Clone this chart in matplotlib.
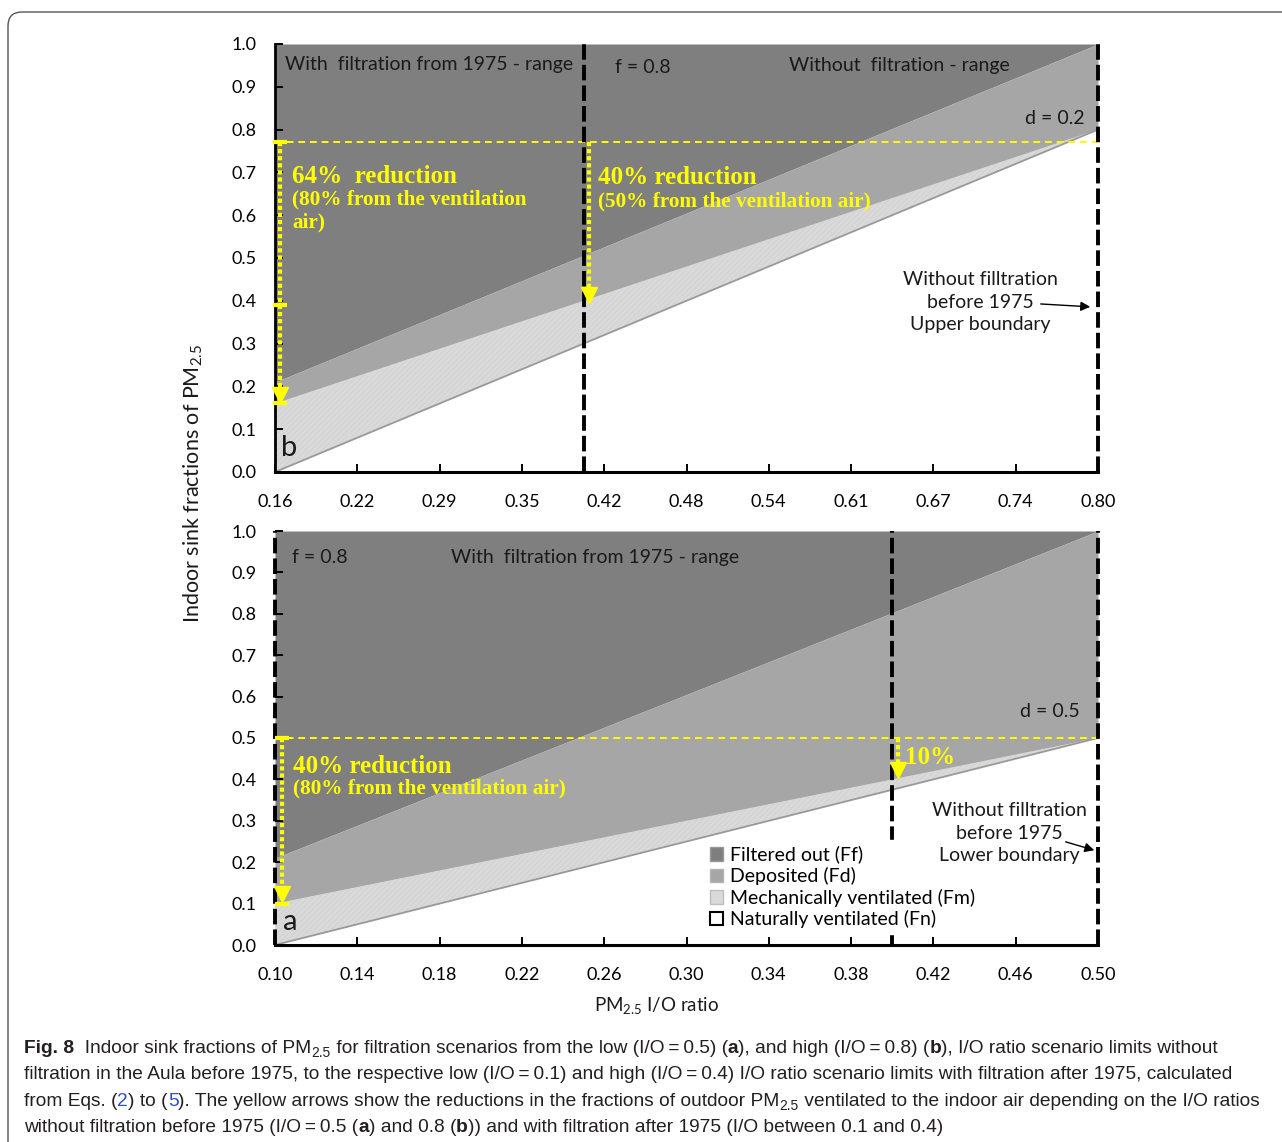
import matplotlib
matplotlib.use('Agg')
import matplotlib.pyplot as plt
from matplotlib.patches import Patch, FancyBboxPatch
from matplotlib.transforms import IdentityTransform, offset_copy

plt.rcParams['font.family'] = ['Lato', 'DejaVu Sans']
plt.rcParams['mathtext.fontset'] = 'custom'
plt.rcParams['mathtext.rm'] = 'Lato'
plt.rcParams['mathtext.it'] = 'Lato:italic'
plt.rcParams['mathtext.bf'] = 'Lato:bold'
plt.rcParams['hatch.linewidth'] = 0.4

W, H = 1282, 1142

# panel b - high scenario (I/O 0.8 without filtration, 0.4 with filtration)
io_b = [0.16, 0.80]
fn_top_b = [0.00, 0.80]   # upper edge of naturally ventilated fraction
fm_top_b = [0.16, 0.80]   # upper edge of mechanically ventilated fraction
fd_top_b = [0.21, 1.00]   # upper edge of deposited fraction
xticks_b = [0.16, 0.224, 0.288, 0.352, 0.416, 0.48, 0.544, 0.608, 0.672, 0.736, 0.80]
xlabels_b = ['0.16', '0.22', '0.29', '0.35', '0.42', '0.48', '0.54', '0.61', '0.67', '0.74', '0.80']
limits_b = [0.40, 0.80]   # black dashed I/O limits
level_b = 0.772           # yellow dashed level
arrows_b = [(0.1639, 0.161, [0.772, 0.39, 0.161]), (0.4042, 0.395, [])]

# panel a - low scenario (I/O 0.5 without filtration, 0.1 with filtration)
io_a = [0.10, 0.50]
fn_top_a = [0.00, 0.50]
fm_top_a = [0.10, 0.50]
fd_top_a = [0.21, 1.00]
xticks_a = [0.10, 0.14, 0.18, 0.22, 0.26, 0.30, 0.34, 0.38, 0.42, 0.46, 0.50]
xlabels_a = ['0.10', '0.14', '0.18', '0.22', '0.26', '0.30', '0.34', '0.38', '0.42', '0.46', '0.50']
limits_a = [0.10, 0.40, 0.50]
level_a = 0.50
arrows_a = [(0.1034, 0.102, [0.50, 0.10]), (0.4028, 0.403, [])]

yticks = [0.0, 0.1, 0.2, 0.3, 0.4, 0.5, 0.6, 0.7, 0.8, 0.9, 1.0]

C_FF = '#7f7f7f'
C_FD = '#a6a6a6'
C_FM = '#d9d9d9'
YEL = '#ffff00'

fig = plt.figure(figsize=(W / 100, H / 100), dpi=100)
ax_b = fig.add_axes([275 / W, 1 - 472 / H, 823 / W, 428 / H])
ax_a = fig.add_axes([275 / W, 1 - 945 / H, 823 / W, 414 / H])


def draw_panel(ax, io, fn_top, fm_top, fd_top, xt, xl, limits, level, arrows):
    ax.fill_between(io, fd_top, 1.0, color=C_FF, lw=0, zorder=1)
    ax.fill_between(io, fm_top, fd_top, color=C_FD, lw=0, zorder=1)
    ax.fill_between(io, fn_top, fm_top, facecolor=C_FM, edgecolor='#cecece',
                    hatch='//////', lw=0, zorder=1)
    ax.plot(io, fn_top, color='#999999', lw=1.3, zorder=2)

    ax.set_xlim(xt[0], xt[-1])
    ax.set_ylim(0, 1)
    ax.set_xticks(xt)
    ax.set_xticklabels(xl)
    ax.set_yticks(yticks)
    ax.set_yticklabels(['%.1f' % v for v in yticks])
    ax.tick_params(direction='in', length=6, width=1.4, labelsize=13)
    ax.tick_params(axis='x', pad=16)
    ax.tick_params(axis='y', pad=13)
    for s in ['top', 'right']:
        ax.spines[s].set_visible(False)
    ax.spines['bottom'].set_linewidth(2.2)
    ax.spines['left'].set_linewidth(2.0)

    for x in limits:
        ax.plot([x, x], [0, 1], color='black', lw=2.8, dashes=(4, 1.3),
                zorder=4, clip_on=False)

    ax.plot([xt[0], xt[-1]], [level, level], color=YEL, lw=1.4,
            dashes=(3.5, 2.5), zorder=3, clip_on=False)

    head = offset_copy(ax.transData, fig=fig, x=0, y=6, units='points')
    for x, tip, bars in arrows:
        ax.plot([x, x], [level, tip + 0.02], color=YEL, lw=3,
                linestyle=(0, (1, 0.7)), zorder=5)
        ax.plot([x], [tip], marker='v', ms=12, color=YEL, mec=YEL,
                transform=head, zorder=5, clip_on=False)
        for y in bars:
            ax.plot([x], [y], marker='_', ms=10, mew=3, color=YEL,
                    zorder=5, clip_on=False)


draw_panel(ax_b, io_b, fn_top_b, fm_top_b, fd_top_b, xticks_b, xlabels_b,
           limits_b, level_b, arrows_b)
draw_panel(ax_a, io_a, fn_top_a, fm_top_a, fd_top_a, xticks_a, xlabels_a,
           limits_a, level_a, arrows_a)
ax_a.spines['left'].set_visible(False)

txt = dict(fontsize=14, color='#1a1a1a', va='center', zorder=8)
ylw = dict(color=YEL, family='Liberation Serif', fontweight='bold', va='center', zorder=6)

# panel b texts
ax_b.text(0.1678, 0.953, 'With  filtration from 1975 - range', **txt)
ax_b.text(0.4244, 0.944, 'f = 0.8', **txt)
ax_b.text(0.5597, 0.949, 'Without  filtration - range', **txt)
ax_b.text(0.7432, 0.827, 'd = 0.2', **txt)
ax_b.text(0.1732, 0.690, '64%  reduction', fontsize=18, **ylw)
ax_b.text(0.1732, 0.610, '(80% from the ventilation\nair)', fontsize=15.3,
          linespacing=1.15, **ylw)
ax_b.text(0.4112, 0.687, '40% reduction', fontsize=18, **ylw)
ax_b.text(0.4112, 0.632, '(50% from the ventilation air)', fontsize=15.3, **ylw)
ax_b.text(0.7082, 0.397, 'Without filltration\nbefore 1975\nUpper boundary',
          ha='center', linespacing=1.4, **txt)
ax_b.annotate('', xy=(0.7961, 0.3855), xytext=(0.7533, 0.393),
              arrowprops=dict(arrowstyle='-|>', color='black', lw=1, mutation_scale=14))
ax_b.text(0.1647, 0.056, 'b', fontsize=21, color='#1a1a1a', va='center')

# panel a texts
ax_a.text(0.1083, 0.937, 'f = 0.8', **txt)
ax_a.text(0.1855, 0.937, 'With  filtration from 1975 - range', **txt)
ax_a.text(0.4621, 0.563, 'd = 0.5', **txt)
ax_a.text(0.1087, 0.432, '40% reduction', fontsize=18, **ylw)
ax_a.text(0.1087, 0.377, '(80% from the ventilation air)', fontsize=15.3, **ylw)
ax_a.text(0.4062, 0.454, '10%', fontsize=18, **ylw)
ax_a.text(0.4568, 0.2705, 'Without filltration\nbefore 1975\nLower boundary',
          ha='center', linespacing=1.4, **txt)
ax_a.annotate('', xy=(0.4995, 0.227), xytext=(0.483, 0.251),
              arrowprops=dict(arrowstyle='-|>', color='black', lw=1, mutation_scale=14),
              zorder=8)
ax_a.text(0.1039, 0.0556, 'a', fontsize=21, color='#1a1a1a', va='center')

handles = [Patch(facecolor=C_FF, edgecolor='#9a9a9a', label='Filtered out (Ff)'),
           Patch(facecolor=C_FD, edgecolor='#b5b5b5', label='Deposited (Fd)'),
           Patch(facecolor=C_FM, edgecolor='#bdbdbd', label='Mechanically ventilated (Fm)'),
           Patch(facecolor='white', edgecolor='black', lw=1.5, label='Naturally ventilated (Fn)')]
leg = ax_a.legend(handles=handles, loc='upper left', bbox_to_anchor=(0.521, 0.254),
                  fontsize=14, handlelength=0.7, handleheight=0.7, handletextpad=0.35,
                  labelspacing=0.18, borderpad=0.3, borderaxespad=0, frameon=True,
                  fancybox=False, framealpha=1, edgecolor='white', facecolor='white')
leg.set_zorder(7)

fig.text(193 / W, 1 - 483 / H, 'Indoor sink fractions of PM$_{2.5}$', rotation=90,
         ha='center', va='center', fontsize=15.5, color='#1a1a1a')
fig.text(657 / W, 1 - 1006 / H, 'PM$_{2.5}$ I/O ratio', ha='center', va='center',
         fontsize=13.5, color='#1a1a1a')

# frame around the figure (only the top and left edges are inside the picture)
frame = FancyBboxPatch((8, -60), 1400, 1190, boxstyle='round,pad=0,rounding_size=14',
                       transform=IdentityTransform(), fill=False, ec='#555555', lw=1)
fig.add_artist(frame)

# caption, laid out run by run
cap_font = ['Liberation Sans', 'DejaVu Sans']
renderer = fig.canvas.get_renderer()
caption = [
    [('Fig. 8', 'b'), ('  Indoor sink fractions of PM', 'n'), ('2.5', 's'),
     (' for filtration scenarios from the low (I/O\u2009=\u20090.5) (', 'n'), ('a', 'b'),
     ('), and high (I/O\u2009=\u20090.8) (', 'n'), ('b', 'b'),
     ('), I/O ratio scenario limits without', 'n')],
    [('filtration in the Aula before 1975, to the respective low (I/O\u2009=\u20090.1) and high '
      '(I/O\u2009=\u20090.4) I/O ratio scenario limits with filtration after 1975, calculated', 'n')],
    [('from Eqs. (', 'n'), ('2', 'l'), (') to (', 'n'), ('5', 'l'),
     ('). The yellow arrows show the reductions in the fractions of outdoor PM', 'n'),
     ('2.5', 's'), (' ventilated to the indoor air depending on the I/O ratios', 'n')],
    [('without filtration before 1975 (I/O\u2009=\u20090.5 (', 'n'), ('a', 'b'),
     (') and 0.8 (', 'n'), ('b', 'b'),
     (')) and with filtration after 1975 (I/O between 0.1 and 0.4)', 'n')],
]
baselines = [1053, 1079, 1106, 1132]


def write_caption(size):
    texts, ends = [], []
    for runs, base in zip(caption, baselines):
        x = 24
        for s, style in runs:
            kw = dict(fontsize=size, color='#231f20', family=cap_font)
            dy = 0
            if style == 'b':
                kw['fontweight'] = 'bold'
            elif style == 's':
                kw['fontsize'] = size * 0.72
                dy = 4
            elif style == 'l':
                kw['color'] = '#2b50c8'
            t = fig.text(x / W, (H - base - dy) / H, s, ha='left', va='baseline', **kw)
            texts.append(t)
            x += t.get_window_extent(renderer).width
        ends.append(x)
    return texts, ends


texts, ends = write_caption(13.8)
widest = max(ends) - 24
if widest > 1248:
    for t in texts:
        t.remove()
    write_caption(13.8 * 1248 / widest)

fig.savefig('out.png', dpi=100)
